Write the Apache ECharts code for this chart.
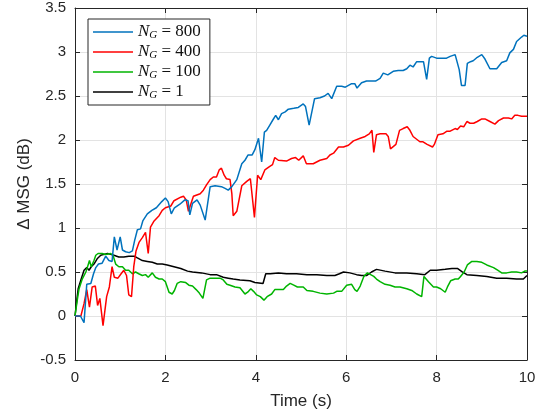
<!DOCTYPE html>
<html>
<head>
<meta charset="utf-8">
<script src="https://cdn.jsdelivr.net/npm/echarts@6/dist/echarts.min.js"></script>
<style>
html,body{margin:0;padding:0;background:#fff;}
#c{width:547px;height:419px;}
</style>
</head>
<body>
<div id="c"></div>
<script>
// ---- data: [time (s), delta MSG (dB)] ----
const ng800 = [[0,0],[0.12,0],[0.2,-0.075],[0.26,0.36],[0.35,0.37],[0.41,0.48],[0.46,0.55],[0.52,0.59],[0.6,0.6],[0.68,0.68],[0.75,0.63],[0.82,0.62],[0.87,0.9],[0.93,0.75],[1.0,0.9],[1.05,0.75],[1.12,0.73],[1.2,0.72],[1.27,0.74],[1.32,0.86],[1.38,0.98],[1.45,0.99],[1.5,1.08],[1.6,1.16],[1.7,1.2],[1.8,1.23],[1.92,1.3],[2.0,1.34],[2.06,1.3],[2.13,1.16],[2.2,1.23],[2.32,1.27],[2.43,1.32],[2.5,1.31],[2.54,1.15],[2.6,1.28],[2.7,1.32],[2.77,1.26],[2.88,1.09],[2.99,1.47],[3.1,1.48],[3.24,1.47],[3.32,1.45],[3.39,1.43],[3.47,1.47],[3.58,1.55],[3.69,1.73],[3.76,1.77],[3.83,1.83],[3.92,1.83],[3.98,1.89],[4.06,2.02],[4.13,1.75],[4.19,2.09],[4.24,2.11],[4.31,2.17],[4.38,2.23],[4.44,2.28],[4.5,2.23],[4.57,2.3],[4.65,2.32],[4.72,2.35],[4.84,2.36],[4.94,2.37],[5.05,2.41],[5.1,2.38],[5.18,2.17],[5.3,2.47],[5.42,2.48],[5.52,2.5],[5.6,2.53],[5.68,2.47],[5.79,2.61],[5.9,2.61],[5.98,2.6],[6.05,2.62],[6.12,2.64],[6.19,2.64],[6.24,2.59],[6.34,2.65],[6.45,2.67],[6.53,2.67],[6.65,2.67],[6.75,2.7],[6.82,2.76],[6.92,2.74],[7.04,2.78],[7.15,2.79],[7.26,2.79],[7.34,2.81],[7.41,2.85],[7.48,2.83],[7.56,2.89],[7.65,2.89],[7.71,2.89],[7.78,2.69],[7.84,2.93],[7.89,2.95],[8.0,2.93],[8.1,2.93],[8.22,2.93],[8.3,2.95],[8.41,2.97],[8.5,2.8],[8.55,2.62],[8.63,2.62],[8.68,2.87],[8.75,2.89],[8.81,2.9],[8.9,2.94],[9.0,2.97],[9.07,2.92],[9.18,2.81],[9.25,2.81],[9.33,2.81],[9.44,2.88],[9.55,2.9],[9.62,2.99],[9.7,3.03],[9.77,3.12],[9.88,3.17],[9.93,3.19],[10,3.18]];
const ng400 = [[0,0],[0.13,0],[0.2,0.14],[0.26,0.3],[0.32,0.1],[0.38,0.33],[0.45,0.34],[0.5,0.12],[0.55,0.2],[0.62,-0.11],[0.7,0.22],[0.76,0.33],[0.82,0.56],[0.87,0.44],[0.95,0.43],[1.02,0.48],[1.08,0.52],[1.14,0.46],[1.19,0.24],[1.25,0.22],[1.3,0.56],[1.35,0.74],[1.42,0.84],[1.49,0.89],[1.56,0.95],[1.62,0.71],[1.67,1.01],[1.75,1.08],[1.86,1.14],[1.93,1.2],[2.0,1.23],[2.12,1.25],[2.19,1.31],[2.34,1.35],[2.4,1.36],[2.46,1.32],[2.51,1.19],[2.55,1.17],[2.62,1.36],[2.77,1.39],[2.84,1.43],[2.91,1.49],[2.99,1.55],[3.06,1.58],[3.13,1.58],[3.19,1.66],[3.24,1.68],[3.3,1.6],[3.35,1.56],[3.43,1.55],[3.47,1.39],[3.5,1.14],[3.58,1.19],[3.69,1.48],[3.8,1.53],[3.88,1.56],[3.97,1.12],[4.04,1.6],[4.11,1.55],[4.2,1.66],[4.31,1.7],[4.37,1.72],[4.42,1.8],[4.5,1.77],[4.68,1.76],[4.79,1.79],[4.88,1.8],[4.95,1.77],[5.05,1.82],[5.12,1.73],[5.27,1.73],[5.42,1.77],[5.57,1.79],[5.64,1.83],[5.72,1.85],[5.83,1.92],[5.94,1.92],[6.05,1.94],[6.16,1.99],[6.31,2.02],[6.42,2.04],[6.51,2.07],[6.57,2.11],[6.61,1.86],[6.67,2.06],[6.75,2.07],[6.88,2.07],[6.93,2.04],[6.98,1.9],[7.1,1.95],[7.18,2.11],[7.26,2.13],[7.35,2.15],[7.41,2.11],[7.48,2.04],[7.63,1.98],[7.7,1.98],[7.74,2.0],[7.79,1.95],[7.91,1.92],[7.95,1.95],[8.03,2.06],[8.14,2.07],[8.23,2.1],[8.3,2.1],[8.41,2.13],[8.46,2.12],[8.53,2.16],[8.6,2.15],[8.67,2.21],[8.74,2.19],[8.82,2.19],[8.9,2.21],[9.0,2.24],[9.07,2.24],[9.18,2.21],[9.29,2.18],[9.37,2.22],[9.48,2.25],[9.59,2.25],[9.66,2.24],[9.73,2.28],[9.8,2.28],[9.88,2.27],[10,2.27]];
const ng100 = [[0,0],[0.05,0.18],[0.09,0.31],[0.16,0.42],[0.24,0.5],[0.29,0.58],[0.32,0.63],[0.36,0.56],[0.42,0.63],[0.46,0.69],[0.51,0.71],[0.6,0.71],[0.68,0.7],[0.79,0.71],[0.84,0.69],[0.9,0.59],[0.97,0.56],[1.05,0.56],[1.12,0.52],[1.19,0.52],[1.27,0.48],[1.34,0.5],[1.41,0.48],[1.49,0.46],[1.56,0.47],[1.62,0.44],[1.71,0.49],[1.78,0.44],[1.86,0.42],[1.93,0.42],[2.0,0.39],[2.08,0.27],[2.15,0.25],[2.2,0.29],[2.26,0.37],[2.34,0.39],[2.45,0.38],[2.52,0.35],[2.6,0.34],[2.68,0.3],[2.75,0.26],[2.83,0.2],[2.91,0.41],[2.99,0.43],[3.13,0.43],[3.21,0.43],[3.28,0.41],[3.36,0.36],[3.43,0.35],[3.54,0.33],[3.65,0.32],[3.76,0.25],[3.82,0.27],[3.89,0.31],[3.95,0.28],[4.02,0.24],[4.1,0.22],[4.18,0.18],[4.25,0.22],[4.35,0.25],[4.42,0.3],[4.5,0.3],[4.61,0.3],[4.68,0.34],[4.76,0.37],[4.84,0.35],[4.92,0.33],[5.05,0.33],[5.13,0.29],[5.27,0.28],[5.42,0.26],[5.57,0.25],[5.72,0.26],[5.79,0.28],[5.9,0.28],[6.01,0.35],[6.12,0.36],[6.19,0.3],[6.24,0.28],[6.31,0.34],[6.39,0.45],[6.47,0.49],[6.54,0.47],[6.61,0.45],[6.67,0.42],[6.75,0.39],[6.86,0.36],[6.97,0.35],[7.08,0.33],[7.19,0.33],[7.34,0.31],[7.45,0.29],[7.56,0.25],[7.67,0.22],[7.72,0.45],[7.82,0.39],[7.93,0.33],[8.0,0.33],[8.09,0.31],[8.19,0.27],[8.24,0.33],[8.31,0.4],[8.41,0.42],[8.48,0.42],[8.53,0.45],[8.61,0.5],[8.68,0.58],[8.78,0.62],[8.89,0.62],[9.0,0.61],[9.11,0.58],[9.26,0.55],[9.35,0.52],[9.44,0.49],[9.55,0.49],[9.66,0.5],[9.77,0.5],[9.88,0.49],[9.95,0.51],[10,0.51]];
const ng1 = [[0,0],[0.04,0.18],[0.07,0.31],[0.13,0.41],[0.2,0.52],[0.26,0.55],[0.31,0.52],[0.36,0.56],[0.42,0.59],[0.49,0.65],[0.57,0.69],[0.64,0.7],[0.72,0.71],[0.79,0.7],[0.86,0.69],[0.97,0.67],[1.08,0.67],[1.19,0.68],[1.31,0.68],[1.38,0.66],[1.49,0.63],[1.6,0.62],[1.71,0.61],[1.82,0.59],[1.93,0.59],[2.04,0.58],[2.19,0.56],[2.34,0.54],[2.49,0.51],[2.6,0.5],[2.8,0.49],[2.99,0.47],[3.13,0.47],[3.28,0.44],[3.39,0.43],[3.5,0.42],[3.65,0.41],[3.87,0.4],[3.98,0.38],[4.16,0.37],[4.22,0.48],[4.32,0.48],[4.5,0.49],[4.68,0.48],[4.9,0.48],[5.13,0.47],[5.35,0.47],[5.57,0.46],[5.75,0.46],[5.85,0.48],[5.94,0.5],[6.08,0.49],[6.23,0.47],[6.34,0.46],[6.45,0.46],[6.56,0.5],[6.67,0.53],[6.86,0.51],[7.08,0.49],[7.34,0.49],[7.56,0.48],[7.74,0.47],[7.86,0.52],[8.0,0.52],[8.19,0.53],[8.34,0.54],[8.46,0.54],[8.56,0.505],[8.67,0.47],[8.89,0.46],[9.11,0.45],[9.33,0.43],[9.55,0.43],[9.77,0.42],[9.92,0.42],[10,0.46]];

const seriesNames = ['800', '400', '100', '1'];
const seriesData = [ng800, ng400, ng100, ng1];
const seriesColors = ['#0072bd', '#ff0000', '#00b400', '#000000'];
const xLabel = 'Time (s)';
const yLabel = 'Δ MSG (dB)';

const axisColor = '#262626';
const gridColor = '#e3e3e3';
const font = '"Liberation Sans", Arial, Helvetica, sans-serif';

const chart = echarts.init(document.getElementById('c'), null, {renderer: 'canvas'});

const xCommon = {
  type: 'value', min: 0, max: 10, interval: 2,
  axisLine: {show: true, onZero: false, lineStyle: {color: axisColor, width: 1}},
  axisTick: {show: true, inside: true, length: 5, lineStyle: {color: axisColor}},
  splitLine: {show: false}
};
const yCommon = {
  type: 'value', min: -0.5, max: 3.5, interval: 0.5,
  axisLine: {show: true, onZero: false, lineStyle: {color: axisColor, width: 1}},
  axisTick: {show: true, inside: true, length: 5, lineStyle: {color: axisColor}},
  splitLine: {show: false}
};

const option = {
  animation: false,
  backgroundColor: '#ffffff',
  grid: {left: 75, right: 20, top: 8, bottom: 59, containLabel: false},
  xAxis: [
    Object.assign({}, xCommon, {
      position: 'bottom',
      splitLine: {show: true, lineStyle: {color: gridColor, width: 1}},
      axisLabel: {color: axisColor, fontFamily: font, fontSize: 15, margin: 10},
      name: xLabel, nameLocation: 'middle', nameGap: 33, nameMoveOverlap: false,
      nameTextStyle: {color: axisColor, fontFamily: font, fontSize: 17}
    }),
    Object.assign({}, xCommon, {position: 'top', axisLabel: {show: false}})
  ],
  yAxis: [
    Object.assign({}, yCommon, {
      position: 'left',
      splitLine: {show: true, lineStyle: {color: gridColor, width: 1}},
      axisLabel: {color: axisColor, fontFamily: font, fontSize: 15, margin: 9},
      name: yLabel, nameLocation: 'middle', nameGap: 42, nameRotate: 90, nameMoveOverlap: false,
      nameTextStyle: {color: axisColor, fontFamily: font, fontSize: 17}
    }),
    Object.assign({}, yCommon, {position: 'right', axisLabel: {show: false}})
  ],
  legend: {
    show: true,
    orient: 'vertical',
    left: 88, top: 19,
    padding: [4, 9, 4, 5],
    itemGap: 2,
    itemWidth: 40, itemHeight: 18,
    borderColor: axisColor, borderWidth: 1,
    backgroundColor: '#ffffff',
    data: seriesNames.map(n => ({name: n, icon: 'path://M0,0 L40,0 L40,1.5 L0,1.5 Z'})),
    formatter: n => '{i|N}{s|G}{r| = ' + n + '}',
    textStyle: {
      rich: {
        i: {fontFamily: '"Liberation Serif", "DejaVu Serif", serif', fontStyle: 'italic', fontSize: 17, color: '#111', lineHeight: 18},
        s: {fontFamily: '"Liberation Serif", "DejaVu Serif", serif', fontStyle: 'italic', fontSize: 11, color: '#111', padding: [7, 0, 0, 0], lineHeight: 18},
        r: {fontFamily: '"Liberation Serif", "DejaVu Serif", serif', fontSize: 17, color: '#111', lineHeight: 18}
      }
    }
  },
  series: seriesNames.map((n, i) => ({
    name: n,
    type: 'line',
    xAxisIndex: 0, yAxisIndex: 0,
    data: seriesData[i],
    showSymbol: false, symbol: 'none',
    lineStyle: {color: seriesColors[i], width: 1.5},
    itemStyle: {color: seriesColors[i]},
    z: 10 - i
  }))
};
chart.setOption(option);
</script>
</body>
</html>
